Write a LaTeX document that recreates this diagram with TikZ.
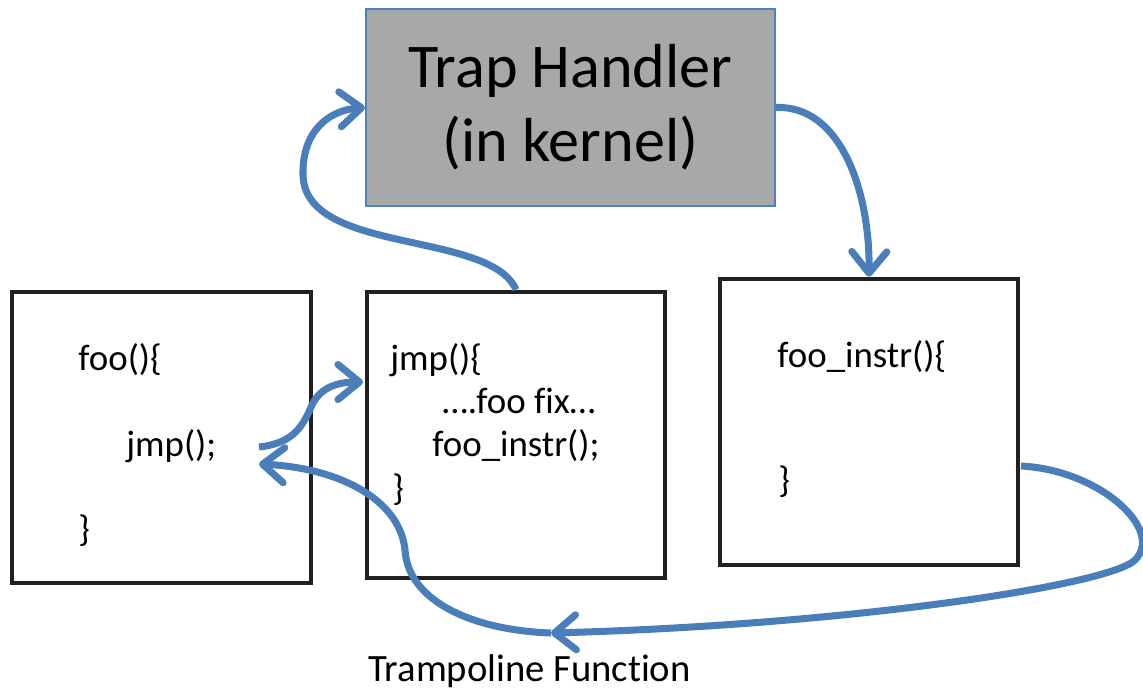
\documentclass[tikz,border=0pt]{standalone}
\usepackage{fontspec}
\setmainfont{Carlito}[Ligatures={NoCommon,NoRare}]
\usepackage{xcolor}
\usetikzlibrary{arrows.meta,positioning}
\definecolor{flowblue}{HTML}{4A7EBB}
\definecolor{trapblue}{HTML}{4F81BD}
\definecolor{trapgray}{HTML}{A7A8AA}
\definecolor{boxblack}{HTML}{231F20}
\begin{document}
\begin{tikzpicture}[x=0.02cm,y=-0.02cm,
  codebox/.style={draw=boxblack,line width=2.7pt,minimum width=5.96cm,minimum height=5.72cm,inner sep=0pt},
  code/.style={anchor=base west,inner sep=0pt,font=\fontsize{21}{25}\selectfont},
  flow/.style={draw=flowblue,line width=4pt,-{Straight Barb[length=4.3mm,width=7mm,round]}}]
   \useasboundingbox (0,0) rectangle (1143,691);
   % boxes
   \node[draw=trapblue,fill=trapgray,line width=1.2pt,minimum width=8.18cm,minimum height=3.94cm,
         align=center,font=\fontsize{35.4}{42}\selectfont] (trap) at (570.5,107.5) {Trap Handler\\(in kernel)};
   \node[codebox,minimum width=5.98cm,minimum height=5.82cm] (foo) at (161.5,437.5) {};
   \node[codebox] (jmp) at (516,435) {};
   \node[codebox] (instr) at (869,422) {};
   % code lines
   \node[code] (foohead) at (78,370) {foo()\{};
   \node[code] (foocall) at (126,456) {jmp();};
   \node[code] (fooend) at (78,541) {\}};
   \node[code] (jmphead) at (390,370) {jmp()\{};
   \node[code] (jmpfix) at (442,413) {….foo fix…};
   \node[code] (jmpcall) at (432,456) {foo\_instr();};
   \node[code] (jmpend) at (392,500) {\}};
   \node[code] (instrhead) at (777,367) {foo\_instr()\{};
   \node[code] (instrend) at (778,492) {\}};
   \node[code,font=\fontsize{22}{26}\selectfont] (tramp) at (368,681) {Trampoline Function};
   % free ends
   \coordinate (callout) at (259,447);
   \coordinate (callin) at (259,464);
   \coordinate (jmpin) at (363,382);
   \coordinate (instrout) at (1021,466);
   \coordinate (trampin) at (551,633);
   % flow
   \draw[flow] (jmp.north) .. controls (490,230) and (305,255) .. (303,175)
      .. controls (302,130) and (330,110) .. (trap.west);
   \draw[flow] (trap.east) .. controls (840,105) and (870,190) .. (instr.north);
   \draw[flow] (callout) .. controls (295,443) and (303,425) .. (312,405)
      .. controls (321,386) and (340,382) .. (jmpin);
   \draw[flow] (instrout) .. controls (1100,470) and (1165,530) .. (1135,560)
      .. controls (1110,585) and (850,625) .. (trampin);
   \draw[flow] (trampin) .. controls (470,630) and (408,600) .. (405,550)
      .. controls (400,500) and (340,468) .. (callin);
\end{tikzpicture}
\end{document}
